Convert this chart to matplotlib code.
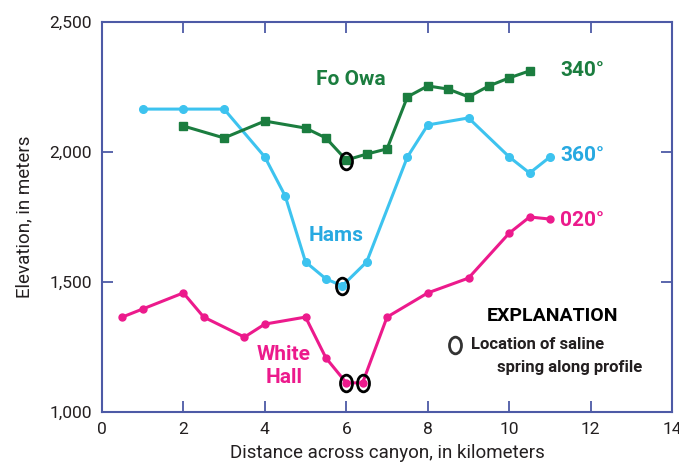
import numpy as np
import matplotlib
matplotlib.use("Agg")
import matplotlib.pyplot as plt
from matplotlib.path import Path
from matplotlib.transforms import Affine2D

plt.rcParams['font.family'] = ['Roboto', 'DejaVu Sans']

# Profile across canyon, distance (km) vs elevation (m)
fo_owa_x = [2, 3, 4, 5, 5.5, 6, 6.5, 7, 7.5, 8, 8.5, 9, 9.5, 10, 10.5]
fo_owa_y = [2100, 2054, 2119, 2092, 2054, 1969, 1992, 2012, 2212, 2254, 2242, 2212, 2254, 2285, 2312]

hams_x = [1, 2, 3, 4, 4.5, 5, 5.5, 5.9, 6.5, 7.5, 8, 9, 10, 10.5, 11]
hams_y = [2165, 2165, 2165, 1981, 1831, 1577, 1512, 1485, 1577, 1981, 2104, 2131, 1981, 1919, 1981]

white_hall_x = [0.5, 1, 2, 2.5, 3.5, 4, 5, 5.5, 6, 6.4, 7, 8, 9, 10, 10.5, 11]
white_hall_y = [1365, 1396, 1458, 1365, 1288, 1338, 1365, 1208, 1112, 1112, 1365, 1458, 1515, 1688, 1750, 1742]

# saline springs
spring_x = [6.0, 5.9, 6.0, 6.4]
spring_y = [1965, 1485, 1112, 1112]

green = '#1b7d3f'
cyan = '#3dc3ef'
cyan_txt = '#27a9e1'
magenta = '#ec1a8c'
spine = '#4d5aa6'
txt = '#231f20'

# tall open "O" marker
oval = Path.unit_circle().transformed(Affine2D().scale(0.72, 1.0))

fig = plt.figure(figsize=(6.79, 4.68), dpi=100)
ax = fig.add_axes([0.150, 0.1197, 0.840, 0.8333])

ax.plot(hams_x, hams_y, color=cyan, lw=2.2, marker='o', ms=5.5, zorder=3)
ax.plot(fo_owa_x, fo_owa_y, color=green, lw=2.2, marker='s', ms=5.5, zorder=3)
ax.plot(white_hall_x, white_hall_y, color=magenta, lw=2.2, marker='o', ms=5, zorder=3)
ax.plot(spring_x, spring_y, ls='none', marker=oval, ms=12, mfc='none',
        mec='black', mew=2.0, zorder=4)

ax.set_xlim(0, 14)
ax.set_ylim(1000, 2500)
ax.set_xticks(range(0, 15, 2))
ax.set_yticks([1000, 1500, 2000, 2500])
ax.set_yticklabels(['1,000', '1,500', '2,000', '2,500'])
ax.tick_params(direction='in', length=8, width=1.3, color=spine,
               top=True, right=True, labelsize=12.5, labelcolor=txt, pad=7)
for s in ax.spines.values():
    s.set_color(spine)
    s.set_linewidth(1.5)

ax.set_xlabel('Distance across canyon, in kilometers', fontsize=13.5, color=txt, labelpad=5)
ax.set_ylabel('Elevation, in meters', fontsize=13.5, color=txt, labelpad=12)

bold = dict(fontweight='bold', fontsize=15)
ax.text(6.1, 2277, 'Fo Owa', color=green, ha='center', va='center', **bold)
ax.text(5.75, 1680, 'Hams', color=cyan_txt, ha='center', va='center', **bold)
ax.text(4.47, 1177, 'White\nHall', color=magenta, ha='center', va='center',
        linespacing=1.3, **bold)
ax.text(11.25, 2315, '340°', color=green, ha='left', va='center', **bold)
ax.text(11.25, 1988, '360°', color=cyan_txt, ha='left', va='center', **bold)
ax.text(11.25, 1738, '020°', color=magenta, ha='left', va='center', **bold)

ax.text(11.06, 1369, 'EXPLANATION', color='black', ha='center', va='center',
        fontweight='bold', fontsize=14)
ax.plot([8.67], [1258], ls='none', marker=oval, ms=12, mfc='none',
        mec='#333333', mew=2.0)
ax.text(9.05, 1258, 'Location of saline', color=txt, ha='left', va='center',
        fontweight='bold', fontsize=12)
ax.text(9.7, 1173, 'spring along profile', color=txt, ha='left', va='center',
        fontweight='bold', fontsize=12)

fig.savefig('out.png', dpi=100)
